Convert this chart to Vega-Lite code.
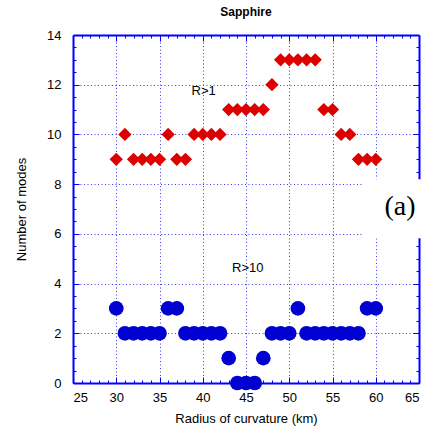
{
  "$schema": "https://vega.github.io/schema/vega-lite/v6.json",
  "width": 346,
  "height": 348,
  "autosize": {"type": "none"},
  "padding": {"left": 73, "top": 35, "right": 10, "bottom": 49},
  "background": "white",
  "title": {"text": "Sapphire", "font": "Liberation Sans", "fontSize": 12, "fontWeight": "bold", "anchor": "middle", "offset": 10, "color": "black"},
  "config": {
    "view": {"stroke": null},
    "axis": {
      "labelFont": "Liberation Sans", "labelFontSize": 13, "labelColor": "black",
      "titleFont": "Liberation Sans", "titleFontSize": 13, "titleFontWeight": "normal", "titleColor": "black",
      "domain": true, "domainColor": "blue", "domainWidth": 2, "domainOpacity": 1,
      "ticks": true, "tickColor": "blue", "tickWidth": 1, "tickOpacity": 1,
      "gridColor": "#3b3bf0", "gridDash": [1, 2.5], "gridWidth": 1
    }
  },
  "datasets": {
    "r1": [
      {"radius": 30, "modes": 9}, {"radius": 31, "modes": 10}, {"radius": 32, "modes": 9}, {"radius": 33, "modes": 9},
      {"radius": 34, "modes": 9}, {"radius": 35, "modes": 9}, {"radius": 36, "modes": 10}, {"radius": 37, "modes": 9},
      {"radius": 38, "modes": 9}, {"radius": 39, "modes": 10}, {"radius": 40, "modes": 10}, {"radius": 41, "modes": 10},
      {"radius": 42, "modes": 10}, {"radius": 43, "modes": 11}, {"radius": 44, "modes": 11}, {"radius": 45, "modes": 11},
      {"radius": 46, "modes": 11}, {"radius": 47, "modes": 11}, {"radius": 48, "modes": 12}, {"radius": 49, "modes": 13},
      {"radius": 50, "modes": 13}, {"radius": 51, "modes": 13}, {"radius": 52, "modes": 13}, {"radius": 53, "modes": 13},
      {"radius": 54, "modes": 11}, {"radius": 55, "modes": 11}, {"radius": 56, "modes": 10}, {"radius": 57, "modes": 10},
      {"radius": 58, "modes": 9}, {"radius": 59, "modes": 9}, {"radius": 60, "modes": 9}
    ],
    "r10": [
      {"radius": 30, "modes": 3}, {"radius": 31, "modes": 2}, {"radius": 32, "modes": 2}, {"radius": 33, "modes": 2},
      {"radius": 34, "modes": 2}, {"radius": 35, "modes": 2}, {"radius": 36, "modes": 3}, {"radius": 37, "modes": 3},
      {"radius": 38, "modes": 2}, {"radius": 39, "modes": 2}, {"radius": 40, "modes": 2}, {"radius": 41, "modes": 2},
      {"radius": 42, "modes": 2}, {"radius": 43, "modes": 1}, {"radius": 44, "modes": 0}, {"radius": 45, "modes": 0},
      {"radius": 46, "modes": 0}, {"radius": 47, "modes": 1}, {"radius": 48, "modes": 2}, {"radius": 49, "modes": 2},
      {"radius": 50, "modes": 2}, {"radius": 51, "modes": 3}, {"radius": 52, "modes": 2}, {"radius": 53, "modes": 2},
      {"radius": 54, "modes": 2}, {"radius": 55, "modes": 2}, {"radius": 56, "modes": 2}, {"radius": 57, "modes": 2},
      {"radius": 58, "modes": 2}, {"radius": 59, "modes": 3}, {"radius": 60, "modes": 3}
    ]
  },
  "layer": [
    {
      "data": {"name": "r1"},
      "mark": {"type": "point", "shape": "diamond", "filled": true, "size": 177, "color": "#dd0000", "opacity": 1, "strokeWidth": 0, "clip": false},
      "encoding": {
        "x": {"field": "radius", "type": "quantitative", "scale": {"domain": [25, 65], "nice": false, "zero": false},
          "axis": {"orient": "bottom", "title": "Radius of curvature (km)",
            "values": [25,26,27,28,29,30,31,32,33,34,35,36,37,38,39,40,41,42,43,44,45,46,47,48,49,50,51,52,53,54,55,56,57,58,59,60,61,62,63,64,65],
            "labelExpr": "datum.value % 5 === 0 ? format(datum.value, 'd') : ''",
            "tickSize": {"condition": {"test": "datum.value % 5 === 0", "value": -6}, "value": -3},
            "labelPadding": 14, "titlePadding": 8,
            "grid": true,
            "gridOpacity": {"condition": {"test": "datum.value % 5 === 0 && datum.value > 25 && datum.value < 65", "value": 1}, "value": 0}}},
        "y": {"field": "modes", "type": "quantitative", "scale": {"domain": [0, 14], "nice": false, "zero": false},
          "axis": {"orient": "left", "title": "Number of modes",
            "values": [0,0.5,1,1.5,2,2.5,3,3.5,4,4.5,5,5.5,6,6.5,7,7.5,8,8.5,9,9.5,10,10.5,11,11.5,12,12.5,13,13.5,14],
            "labelExpr": "datum.value % 2 === 0 ? format(datum.value, 'd') : ''",
            "tickSize": {"condition": {"test": "datum.value % 2 === 0", "value": -6}, "value": -3},
            "labelPadding": 18, "titlePadding": 18,
            "grid": true,
            "gridOpacity": {"condition": {"test": "datum.value % 2 === 0 && datum.value > 0 && datum.value < 14", "value": 1}, "value": 0}}}
      }
    },
    {
      "data": {"name": "r10"},
      "mark": {"type": "circle", "size": 216, "color": "#0000d0", "opacity": 1, "clip": false},
      "encoding": {
        "x": {"field": "radius", "type": "quantitative", "scale": {"domain": [25, 65], "nice": false, "zero": false},
          "axis": {"orient": "top", "title": null, "labels": false, "grid": false,
            "values": [25,26,27,28,29,30,31,32,33,34,35,36,37,38,39,40,41,42,43,44,45,46,47,48,49,50,51,52,53,54,55,56,57,58,59,60,61,62,63,64,65],
            "tickSize": {"condition": {"test": "datum.value % 5 === 0", "value": -6}, "value": -3}}},
        "y": {"field": "modes", "type": "quantitative", "scale": {"domain": [0, 14], "nice": false, "zero": false},
          "axis": {"orient": "right", "title": null, "labels": false, "grid": false,
            "values": [0,0.5,1,1.5,2,2.5,3,3.5,4,4.5,5,5.5,6,6.5,7,7.5,8,8.5,9,9.5,10,10.5,11,11.5,12,12.5,13,13.5,14],
            "tickSize": {"condition": {"test": "datum.value % 2 === 0", "value": -6}, "value": -3}}}
      }
    },
    {
      "data": {"values": [{"x": 40.1, "y": 11.73, "label": "R>1"}, {"x": 45.2, "y": 4.62, "label": "R>10"}]},
      "mark": {"type": "text", "font": "Liberation Sans", "fontSize": 13, "color": "black", "clip": false},
      "encoding": {
        "x": {"field": "x", "type": "quantitative", "scale": {"domain": [25, 65], "nice": false, "zero": false}, "axis": null},
        "y": {"field": "y", "type": "quantitative", "scale": {"domain": [0, 14], "nice": false, "zero": false}, "axis": null},
        "text": {"field": "label"}
      }
    },
    {
      "data": {"values": [{"x": 58.45, "x2": 65.3, "y": 5.82, "y2": 8.2}]},
      "mark": {"type": "rect", "fill": "white", "clip": false},
      "encoding": {
        "x": {"field": "x", "type": "quantitative", "scale": {"domain": [25, 65], "nice": false, "zero": false}, "axis": null},
        "x2": {"field": "x2"},
        "y": {"field": "y", "type": "quantitative", "scale": {"domain": [0, 14], "nice": false, "zero": false}, "axis": null},
        "y2": {"field": "y2"}
      }
    },
    {
      "data": {"values": [{"x": 62.8, "y": 7.1, "label": "(a)"}]},
      "mark": {"type": "text", "font": "Liberation Serif", "fontSize": 28, "color": "black", "clip": false},
      "encoding": {
        "x": {"field": "x", "type": "quantitative", "scale": {"domain": [25, 65], "nice": false, "zero": false}, "axis": null},
        "y": {"field": "y", "type": "quantitative", "scale": {"domain": [0, 14], "nice": false, "zero": false}, "axis": null},
        "text": {"field": "label"}
      }
    }
  ],
  "resolve": {"axis": {"x": "independent", "y": "independent"}}
}
